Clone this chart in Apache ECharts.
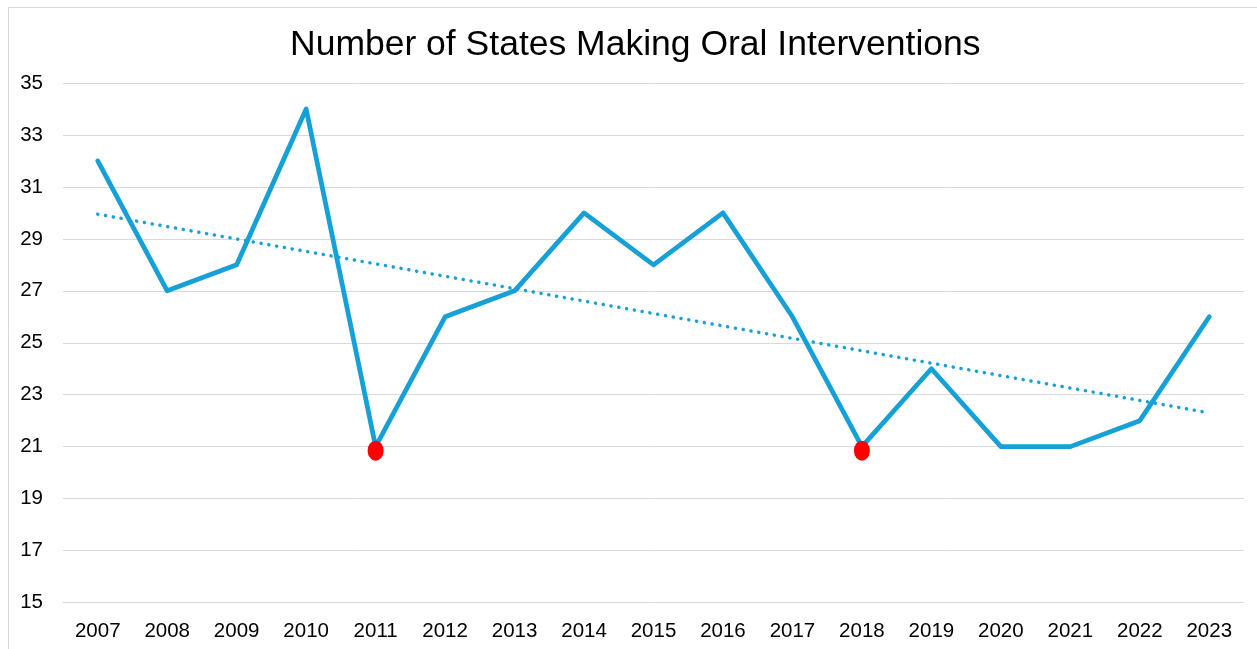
<!DOCTYPE html>
<html>
<head>
<meta charset="utf-8">
<script src="https://cdn.jsdelivr.net/npm/echarts@6/dist/echarts.min.js"></script>
<style>
html,body{margin:0;padding:0;background:#fff;}
#chart{width:1257px;height:649px;}
</style>
</head>
<body>
<div id="chart"></div>
<script>
const titleText = 'Number of States Making Oral Interventions';
const years = ['2007','2008','2009','2010','2011','2012','2013','2014','2015','2016','2017','2018','2019','2020','2021','2022','2023'];
const statesCount = [32, 27, 28, 34, 21, 26, 27, 30, 28, 30, 26, 21, 24, 21, 21, 22, 26];
const trendStart = 29.95;
const trendEnd = 22.3;
const lowYears = ['2011', '2018'];
const lowValues = [21, 21];
const yTicks = [15, 17, 19, 21, 23, 25, 27, 29, 31, 33, 35];

const trendData = years.map((y, i) => i === 0 ? trendStart : (i === years.length - 1 ? trendEnd : null));
const lowData = lowYears.map((y, i) => [y, lowValues[i]]);

const FONT = "'Liberation Sans', Arial, sans-serif";
const BLUE = '#15a0d8';

const chart = echarts.init(document.getElementById('chart'), null, {renderer: 'canvas'});
chart.setOption({
  backgroundColor: '#ffffff',
  animation: false,
  graphic: [{
    type: 'rect',
    shape: {x: 8.5, y: 7.5, width: 1270, height: 680},
    style: {fill: 'none', stroke: '#d9d9d9', lineWidth: 1},
    silent: true
  }],
  title: {
    text: titleText,
    left: 285,
    top: 22,
    textStyle: {fontFamily: FONT, fontSize: 35.5, fontWeight: 'normal', color: '#000'}
  },
  grid: {left: 63, right: 13, top: 83, bottom: 46.5, containLabel: false},
  xAxis: {
    type: 'category',
    data: years,
    boundaryGap: true,
    axisLine: {show: true, lineStyle: {color: '#d9d9d9', width: 1}},
    axisTick: {show: false},
    axisLabel: {fontFamily: FONT, fontSize: 20.5, color: '#000', margin: 18, interval: 0}
  },
  yAxis: {
    type: 'value',
    min: yTicks[0],
    max: yTicks[yTicks.length - 1],
    interval: 2,
    axisLine: {show: false},
    axisTick: {show: false},
    splitLine: {lineStyle: {color: '#d9d9d9', width: 1}},
    axisLabel: {fontFamily: FONT, fontSize: 20.5, color: '#000', margin: 20}
  },
  series: [
    {
      type: 'line',
      data: trendData,
      connectNulls: true,
      symbol: 'none',
      lineStyle: {color: BLUE, width: 3.5, type: [0.1, 7.8], cap: 'round'},
      z: 2
    },
    {
      type: 'line',
      data: statesCount,
      symbol: 'none',
      lineStyle: {color: BLUE, width: 4.75, cap: 'round', join: 'round'},
      z: 3
    },
    {
      type: 'scatter',
      data: lowData,
      symbol: 'circle',
      symbolSize: [16, 20],
      symbolOffset: [0, 4],
      itemStyle: {color: '#ff0000', opacity: 1},
      z: 4
    }
  ]
});
</script>
</body>
</html>
